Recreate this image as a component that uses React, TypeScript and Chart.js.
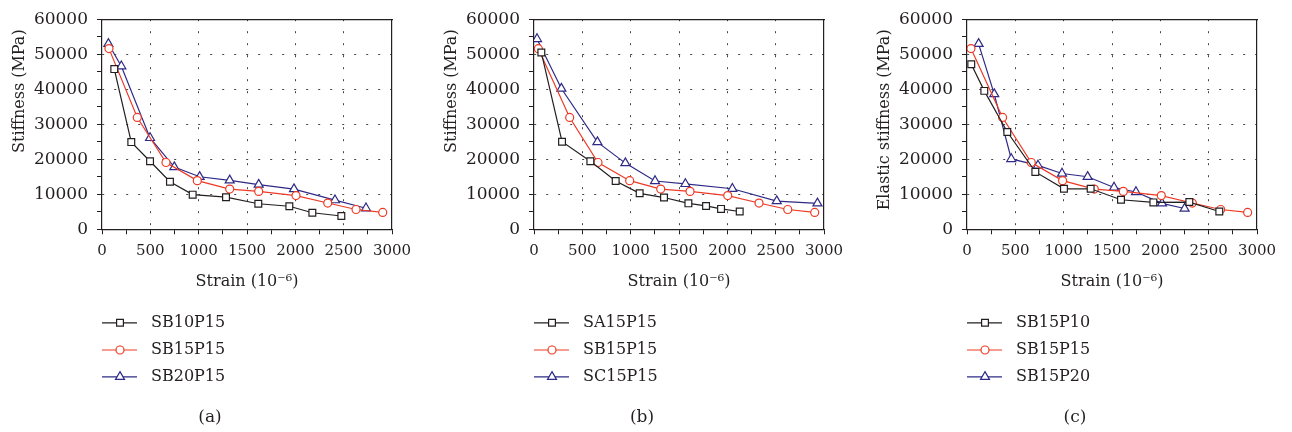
import React, { useEffect, useRef } from 'react';
import { Chart, registerables } from 'chart.js';

Chart.register(...registerables);

const FONT = "'DejaVu Serif', 'Liberation Serif', serif";
const INK = '#231f20';
const RED = '#ee3a24';
const BLUE = '#2e2a86';

Chart.defaults.font.family = FONT;
Chart.defaults.font.size = 17;
Chart.defaults.color = INK;

// Tick labels
const xTickLabels = ['0', '500', '1000', '1500', '2000', '2500', '3000'];
const yTickLabels = ['0', '10000', '20000', '30000', '40000', '50000', '60000'];

// Panel (a)
const aSB10P15Strain = [127, 303, 497, 703, 938, 1283, 1617, 1938, 2176, 2476];
const aSB10P15Stiff = [45750, 24900, 19440, 13600, 9900, 9170, 7300, 6580, 4720, 3800];
const aSB15P15Strain = [72, 365, 662, 986, 1321, 1621, 2007, 2335, 2628, 2904];
const aSB15P15Stiff = [51600, 31940, 19070, 13900, 11480, 10830, 9630, 7500, 5650, 4810];
const aSB20P15Strain = [66, 200, 497, 748, 1010, 1321, 1621, 1986, 2410, 2731];
const aSB20P15Stiff = [52970, 46580, 26100, 17780, 15000, 13980, 12780, 11480, 8330, 6020];

// Panel (b)
const bSA15P15Strain = [76, 290, 583, 845, 1093, 1345, 1597, 1780, 1935, 2128];
const bSA15P15Stiff = [50470, 25000, 19440, 13800, 10280, 9070, 7410, 6670, 5830, 5090];
const bSB15P15Strain = [45, 369, 662, 990, 1311, 1614, 2004, 2328, 2625, 2904];
const bSB15P15Stiff = [51580, 31940, 19070, 13890, 11480, 10830, 9630, 7500, 5650, 4810];
const bSC15P15Strain = [31, 283, 656, 945, 1252, 1566, 2052, 2511, 2932];
const bSC15P15Stiff = [54360, 40190, 24900, 18900, 13800, 12970, 11580, 8060, 7410];

// Panel (c)
const cSB15P10Strain = [44, 179, 417, 707, 1003, 1279, 1593, 1928, 2300, 2610];
const cSB15P10Stiff = [47130, 39530, 27780, 16390, 11570, 11570, 8430, 7680, 7780, 5090];
const cSB15P15Strain = [41, 368, 665, 989, 1317, 1617, 2010, 2331, 2624, 2903];
const cSB15P15Stiff = [51600, 31940, 19070, 13900, 11480, 10830, 9630, 7500, 5650, 4810];
const cSB15P20Strain = [120, 282, 458, 734, 983, 1248, 1521, 1748, 2017, 2251];
const cSB15P20Stiff = [52970, 38610, 20090, 18240, 15930, 15000, 11940, 10650, 7410, 5930];

type Series = { label: string; xs: number[]; ys: number[]; color: string; style: string; radius: number };

const STYLE_SQ = { color: INK, style: 'rect', radius: 4.8 };
const STYLE_CI = { color: RED, style: 'circle', radius: 4 };
const STYLE_TR = { color: BLUE, style: 'triangle', radius: 5.2 };

const panels: { caption: string; yTitle: string; left: number; series: Series[] }[] = [
  {
    caption: '(a)', yTitle: 'Stiffness (MPa)', left: 0,
    series: [
      { label: 'SB10P15', xs: aSB10P15Strain, ys: aSB10P15Stiff, ...STYLE_SQ },
      { label: 'SB15P15', xs: aSB15P15Strain, ys: aSB15P15Stiff, ...STYLE_CI },
      { label: 'SB20P15', xs: aSB20P15Strain, ys: aSB20P15Stiff, ...STYLE_TR },
    ],
  },
  {
    caption: '(b)', yTitle: 'Stiffness (MPa)', left: 432,
    series: [
      { label: 'SA15P15', xs: bSA15P15Strain, ys: bSA15P15Stiff, ...STYLE_SQ },
      { label: 'SB15P15', xs: bSB15P15Strain, ys: bSB15P15Stiff, ...STYLE_CI },
      { label: 'SC15P15', xs: bSC15P15Strain, ys: bSC15P15Stiff, ...STYLE_TR },
    ],
  },
  {
    caption: '(c)', yTitle: 'Elastic stiffness (MPa)', left: 865,
    series: [
      { label: 'SB15P10', xs: cSB15P10Strain, ys: cSB15P10Stiff, ...STYLE_SQ },
      { label: 'SB15P15', xs: cSB15P15Strain, ys: cSB15P15Stiff, ...STYLE_CI },
      { label: 'SB15P20', xs: cSB15P20Strain, ys: cSB15P20Stiff, ...STYLE_TR },
    ],
  },
];

function drawMarker(ctx: CanvasRenderingContext2D, style: string, x: number, y: number, r: number, color: string) {
  ctx.save();
  ctx.beginPath();
  if (style === 'rect') {
    const s = Math.SQRT1_2 * r;
    ctx.rect(x - s, y - s, 2 * s, 2 * s);
  } else if (style === 'triangle') {
    let a = 0;
    ctx.moveTo(x + Math.sin(a) * r, y - Math.cos(a) * r);
    a += (2 * Math.PI) / 3;
    ctx.lineTo(x + Math.sin(a) * r, y - Math.cos(a) * r);
    a += (2 * Math.PI) / 3;
    ctx.lineTo(x + Math.sin(a) * r, y - Math.cos(a) * r);
    ctx.closePath();
  } else {
    ctx.arc(x, y, r, 0, Math.PI * 2);
  }
  ctx.fillStyle = '#ffffff';
  ctx.fill();
  ctx.strokeStyle = color;
  ctx.lineWidth = 1.2;
  ctx.stroke();
  ctx.restore();
}

const stackedLegend = {
  id: 'stackedLegend',
  afterDraw(chart: any) {
    const { ctx, chartArea } = chart;
    const rows = [93.5, 120.7, 147.5];
    chart.data.datasets.forEach((ds: any, i: number) => {
      const y = chartArea.bottom + rows[i];
      const x0 = chartArea.left;
      ctx.save();
      ctx.strokeStyle = ds.borderColor;
      ctx.lineWidth = 1.2;
      ctx.beginPath();
      ctx.moveTo(x0, y);
      ctx.lineTo(x0 + 35, y);
      ctx.stroke();
      drawMarker(ctx, ds.pointStyle, x0 + 18, y, ds.pointRadius, ds.borderColor);
      ctx.fillStyle = INK;
      ctx.font = `16px ${FONT}`;
      ctx.textBaseline = 'middle';
      ctx.textAlign = 'left';
      ctx.fillText(ds.label, x0 + 49, y);
      ctx.restore();
    });
  },
};

function Panel({ p }: { p: (typeof panels)[number] }) {
  const ref = useRef<HTMLCanvasElement | null>(null);
  useEffect(() => {
    if (!ref.current) return;
    const chart = new Chart(ref.current, {
      type: 'scatter',
      data: {
        datasets: p.series.map((s) => ({
          label: s.label,
          data: s.xs.map((x, i) => ({ x, y: s.ys[i] })),
          showLine: true,
          tension: 0,
          borderColor: s.color,
          borderWidth: 1.2,
          backgroundColor: '#ffffff',
          pointStyle: s.style as any,
          pointRadius: s.radius,
          pointBorderWidth: 1.2,
          pointBackgroundColor: '#ffffff',
          pointBorderColor: s.color,
        })),
      },
      options: {
        animation: false,
        responsive: false,
        devicePixelRatio: 1,
        events: [],
        layout: { padding: { top: 3, left: 0, right: 12, bottom: 0 } },
        plugins: {
          legend: { display: false },
          tooltip: { enabled: false },
          title: {
            display: true,
            text: p.caption,
            position: 'bottom',
            color: INK,
            font: { family: FONT, size: 17, weight: 'normal', lineHeight: 1.2 },
            padding: { top: 116.5, bottom: 3.8 },
          },
        },
        scales: {
          x: {
            type: 'linear',
            position: 'bottom',
            min: 0,
            max: 3000,
            afterFit: (s: any) => { s.height = 62; },
            ticks: {
              stepSize: 250,
              autoSkip: false,
              maxRotation: 0,
              padding: 8,
              color: INK,
              font: { family: FONT, size: 15, lineHeight: 1.2 },
              callback: (v: any) => (xTickLabels.includes(String(v)) ? String(v) : ''),
            },
            grid: {
              color: (c: any) => {
                const v = c.tick ? c.tick.value : 0;
                return v % 500 === 0 && v !== 0 && v !== 3000 ? '#444444' : 'rgba(0,0,0,0)';
              },
              lineWidth: 1,
              tickColor: INK,
              tickLength: 5,
              tickWidth: 1,
            },
            border: { display: true, color: INK, width: 1.2, dash: [2, 10] },
            title: {
              display: true,
              text: 'Strain (10⁻⁶)',
              color: INK,
              font: { family: FONT, size: 16, lineHeight: 1.2 },
              padding: { top: 0, bottom: 0 },
            },
          },
          y: {
            type: 'linear',
            position: 'left',
            min: 0,
            max: 60000,
            afterFit: (s: any) => { s.width = 102; },
            ticks: {
              stepSize: 5000,
              autoSkip: false,
              padding: 9,
              color: INK,
              font: { family: FONT, size: 17, lineHeight: 1.2 },
              callback: (v: any) => (yTickLabels.includes(String(v)) ? String(v) : ''),
            },
            grid: {
              color: (c: any) => {
                const v = c.tick ? c.tick.value : 0;
                return v % 10000 === 0 && v !== 0 && v !== 60000 ? '#444444' : 'rgba(0,0,0,0)';
              },
              lineWidth: 1,
              tickColor: INK,
              tickLength: 5,
              tickWidth: 1,
            },
            border: { display: true, color: INK, width: 1.2, dash: [2, 10] },
            title: {
              display: true,
              text: p.yTitle + '  ',
              align: 'end',
              color: INK,
              font: { family: FONT, size: 16, lineHeight: 1.2 },
              padding: { top: 10, bottom: 0 },
            },
          },
          xTop: {
            type: 'linear',
            position: 'top',
            axis: 'x',
            min: 0,
            max: 1,
            afterFit: (s: any) => { s.height = 0; },
            ticks: { display: false },
            grid: { display: false },
            border: { display: true, color: INK, width: 1.2 },
          },
          yRight: {
            type: 'linear',
            position: 'right',
            axis: 'y',
            min: 0,
            max: 1,
            afterFit: (s: any) => { s.width = 28; },
            ticks: { display: false },
            grid: { display: false },
            border: { display: true, color: INK, width: 1.2 },
          },
        } as any,
      },
      plugins: [stackedLegend],
    } as any);
    return () => chart.destroy();
  }, [p]);
  return (
    <div style={{ position: 'absolute', left: p.left, top: 0, width: 432, height: 432 }}>
      <canvas ref={ref} width={432} height={432} style={{ width: 432, height: 432, display: 'block' }} />
    </div>
  );
}

export default function App() {
  return (
    <div
      style={{
        position: 'absolute',
        left: 0,
        top: 0,
        width: 1292,
        height: 432,
        overflow: 'hidden',
        background: '#ffffff',
      }}
    >
      {panels.map((p) => (
        <Panel key={p.caption} p={p} />
      ))}
    </div>
  );
}
